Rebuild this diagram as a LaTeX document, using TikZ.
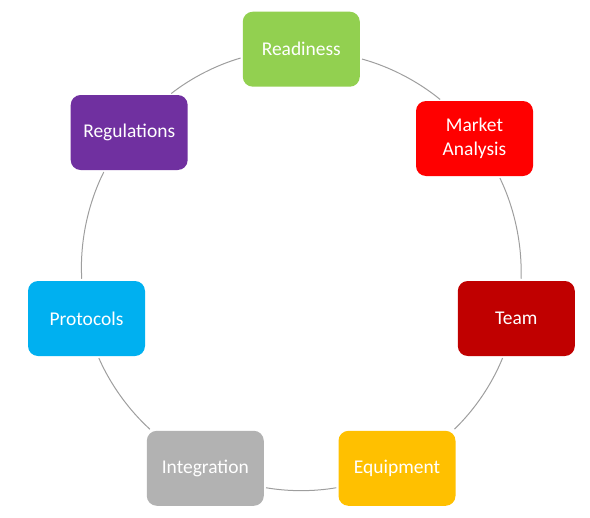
\documentclass[tikz,border=0pt]{standalone}
\usepackage{fontspec}
\setmainfont{Carlito}
\usepackage{tikz}
\usetikzlibrary{arrows}
\definecolor{cReady}{HTML}{92D050}
\definecolor{cMarket}{HTML}{FF0000}
\definecolor{cTeam}{HTML}{C00000}
\definecolor{cEquip}{HTML}{FFC000}
\definecolor{cInteg}{HTML}{B2B2B2}
\definecolor{cProto}{HTML}{00B0F0}
\definecolor{cRegul}{HTML}{7030A0}
\tikzset{stage/.style={rounded corners=7.5pt,minimum width=87.75pt,minimum height=56.25pt,
                       inner sep=0pt,align=center,text=white,
                       font=\fontsize{14.6}{18}\selectfont}}

\begin{document}
\begin{tikzpicture}[x=0.75pt,y=0.75pt]
    \tikzstyle{link}=[draw=black!38,line width=0.75pt,looseness=0.86,
                      shorten >=1.5pt,shorten <=1.5pt]
    \useasboundingbox (0,0) rectangle (590,-518);

    % Draw the stages round the cycle
    \foreach \name / \x / \y / \col / \txt in {ready/301.3/49.2/cReady/Readiness,
            market/474.5/138.5/cMarket/{Market\\Analysis},
            team/516.3/318.5/cTeam/Team,
            equip/397/468.3/cEquip/Equipment,
            integ/205.3/468.3/cInteg/Integration,
            proto/86.5/318.5/cProto/Protocols,
            regul/129.2/132.5/cRegul/Regulations}
        \node[stage,fill=\col] (S-\name) at (\x,-\y) {\txt};

    % Join each stage to the next one, along the ring
    \foreach \source / \sa / \dest / \da / \bend in {ready/351/market/131.5/12,
            market/303.9/team/83.3/14, team/251.4/equip/34.4/12,
            equip/198/integ/342/9.8, integ/145.7/proto/287.5/12,
            proto/97.9/regul/237.5/15, regul/43.8/ready/188.8/10.9}
        \draw[link,bend left=\bend] (S-\source.\sa) to (S-\dest.\da);
\end{tikzpicture}
\end{document}
